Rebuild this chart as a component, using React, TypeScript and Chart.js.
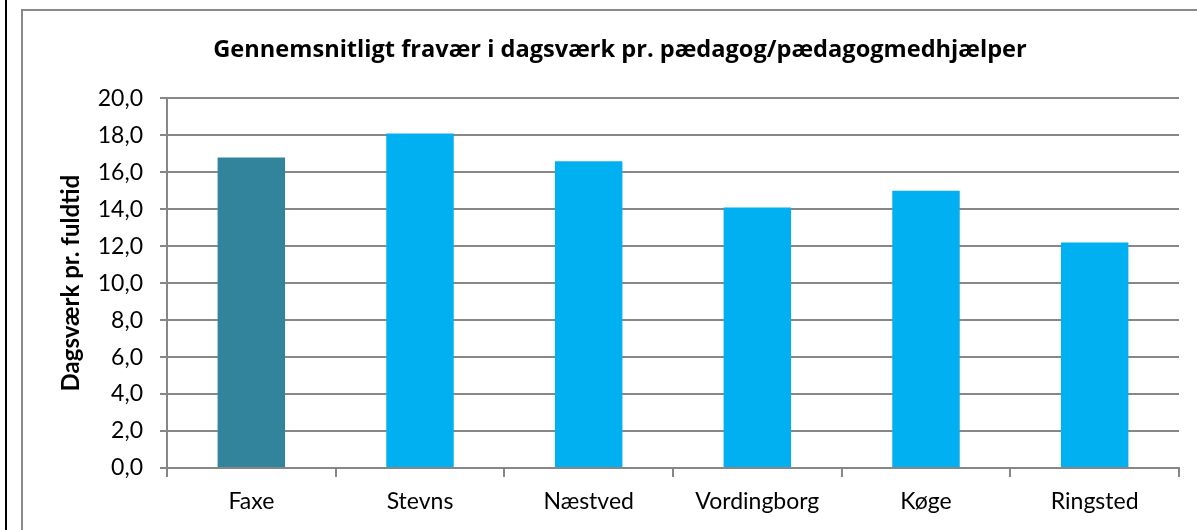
import React, { useEffect, useRef } from "react";
import { Chart, registerables } from "chart.js";

Chart.register(...registerables);

const chartTitle = "Gennemsnitligt fravær i dagsværk pr. pædagog/pædagogmedhjælper";
const yAxisTitle = "Dagsværk pr. fuldtid";
const categories = ["Faxe", "Stevns", "Næstved", "Vordingborg", "Køge", "Ringsted"];
const values = [16.8, 18.1, 16.6, 14.1, 15.0, 12.2];
const barColors = ["#31849B", "#00B0F0", "#00B0F0", "#00B0F0", "#00B0F0", "#00B0F0"];
const yMin = 0;
const yMax = 20;
const yStep = 2;

const GRID = "#878787";
const FONT = "Lato";

const framePlugin = {
  id: "frame",
  beforeDraw(chart: any) {
    const ctx = chart.ctx;
    ctx.save();
    ctx.fillStyle = "#ffffff";
    ctx.fillRect(0, 0, chart.width, chart.height);
    ctx.fillStyle = "#000000";
    ctx.fillRect(5, 0, 2, chart.height);
    ctx.strokeStyle = "#8a8a8a";
    ctx.lineWidth = 2;
    ctx.strokeRect(22, 10, chart.width + 20, chart.height + 20);
    ctx.restore();
  },
};

export default function App() {
  const ref = useRef<HTMLCanvasElement | null>(null);
  useEffect(() => {
    if (!ref.current) return;
    const chart = new Chart(ref.current, {
      type: "bar",
      data: {
        labels: categories,
        datasets: [
          {
            data: values,
            backgroundColor: barColors,
            borderWidth: 0,
            barPercentage: 0.4,
            categoryPercentage: 1,
            yAxisID: "y",
          },
        ],
      },
      options: {
        animation: false,
        responsive: false,
        devicePixelRatio: 1,
        layout: { padding: { left: 43, right: 0, top: 0, bottom: 0 } },
        plugins: {
          legend: { display: false },
          tooltip: { enabled: false },
          title: {
            display: true,
            text: chartTitle,
            color: "#000",
            font: { family: "Open Sans", size: 23.6, weight: "bold" },
            padding: { top: 36, bottom: 34 },
          },
        },
        scales: {
          x: {
            offset: true,
            afterFit(scale: any) {
              scale.height = 62;
            },
            grid: {
              offset: true,
              drawOnChartArea: false,
              drawTicks: true,
              tickLength: 9,
              color: GRID,
              lineWidth: 2,
            },
            border: { display: true, color: GRID, width: 2 },
            ticks: {
              color: "#000",
              padding: 11,
              font: { family: FONT, size: 23 },
              maxRotation: 0,
              autoSkip: false,
            },
          },
          y: {
            position: "left",
            min: yMin,
            max: yMax,
            afterFit(scale: any) {
              scale.width = 124;
            },
            grid: {
              color: GRID,
              lineWidth: 2,
              tickLength: 7,
              drawTicks: true,
            },
            border: { display: true, color: GRID, width: 2 },
            ticks: {
              stepSize: yStep,
              color: "#000",
              padding: 17,
              font: { family: FONT, size: 23 },
              callback: (v: any) => Number(v).toFixed(1).replace(".", ","),
            },
            title: {
              display: true,
              text: yAxisTitle,
              color: "#000",
              font: { family: FONT, size: 24, weight: "bold" },
              padding: { top: 14, bottom: 0 },
            },
          },
          yRight: {
            position: "right",
            display: true,
            min: yMin,
            max: yMax,
            afterFit(scale: any) {
              scale.width = 18;
            },
            grid: { display: false, drawOnChartArea: false, drawTicks: false },
            border: { display: false },
            ticks: { display: false },
          },
        },
      },
      plugins: [framePlugin],
    });
    return () => chart.destroy();
  }, []);
  return (
    <div style={{ position: "fixed", left: 0, top: 0, width: 1197, height: 530 }}>
      <canvas ref={ref} width={1197} height={530} style={{ display: "block" }} />
    </div>
  );
}
